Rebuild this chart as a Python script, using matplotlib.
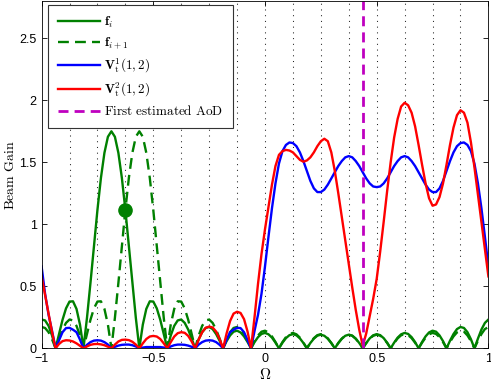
"""Beam gain of the two training beams and the two candidate beams
"""
import numpy as np
import matplotlib
matplotlib.use("Agg")
import matplotlib.pyplot as plt

plt.rcParams['font.family'] = ['Liberation Sans', 'DejaVu Sans']
plt.rcParams['mathtext.fontset'] = 'cm'

# spatial frequency grid, -1 .. 1 in steps of 1/64
omega = np.linspace(-1, 1, 129)

# beam f_i (main lobe at -0.6875)
gain_fi = [0.232, 0.225, 0.181, 0.103, 0, 0.116, 0.230, 0.322, 0.377, 0.379, 0.318, 0.191, 0,
           0.245, 0.527, 0.825, 1.116, 1.374, 1.576, 1.706, 1.750,
           1.706, 1.576, 1.374, 1.116, 0.825, 0.527, 0.245, 0,
           0.191, 0.318, 0.379, 0.377, 0.322, 0.230, 0.116, 0,
           0.103, 0.181, 0.225, 0.232, 0.205, 0.151, 0.078, 0,
           0.073, 0.130, 0.164, 0.172, 0.155, 0.115, 0.061, 0,
           0.058, 0.104, 0.134, 0.142, 0.128, 0.096, 0.051, 0,
           0.050, 0.090, 0.116, 0.124, 0.113, 0.086, 0.046, 0,
           0.045, 0.082, 0.106, 0.114, 0.105, 0.080, 0.043, 0,
           0.043, 0.078, 0.102, 0.110, 0.101, 0.077, 0.042, 0,
           0.042, 0.077, 0.101, 0.110, 0.102, 0.078, 0.043, 0,
           0.043, 0.080, 0.105, 0.114, 0.106, 0.082, 0.045, 0,
           0.046, 0.086, 0.113, 0.124, 0.116, 0.090, 0.050, 0,
           0.051, 0.096, 0.128, 0.142, 0.134, 0.104, 0.058, 0,
           0.061, 0.115, 0.155, 0.172, 0.164, 0.130, 0.073, 0,
           0.078, 0.151, 0.205, 0.232]

# beam f_{i+1} (main lobe at -0.5625)
gain_fi1 = [0.172, 0.164, 0.130, 0.073, 0, 0.078, 0.151, 0.205, 0.232, 0.225, 0.181, 0.103, 0,
            0.116, 0.230, 0.322, 0.377, 0.379, 0.318, 0.191, 0,
            0.245, 0.527, 0.825, 1.116, 1.374, 1.576, 1.706, 1.750,
            1.706, 1.576, 1.374, 1.116, 0.825, 0.527, 0.245, 0,
            0.191, 0.318, 0.379, 0.377, 0.322, 0.230, 0.116, 0,
            0.103, 0.181, 0.225, 0.232, 0.205, 0.151, 0.078, 0,
            0.073, 0.130, 0.164, 0.172, 0.155, 0.115, 0.061, 0,
            0.058, 0.104, 0.134, 0.142, 0.128, 0.096, 0.051, 0,
            0.050, 0.090, 0.116, 0.124, 0.113, 0.086, 0.046, 0,
            0.045, 0.082, 0.106, 0.114, 0.105, 0.080, 0.043, 0,
            0.043, 0.078, 0.102, 0.110, 0.101, 0.077, 0.042, 0,
            0.042, 0.077, 0.101, 0.110, 0.102, 0.078, 0.043, 0,
            0.043, 0.080, 0.105, 0.114, 0.106, 0.082, 0.045, 0,
            0.046, 0.086, 0.113, 0.124, 0.116, 0.090, 0.050, 0,
            0.051, 0.096, 0.128, 0.142, 0.134, 0.104, 0.058, 0,
            0.061, 0.115, 0.155, 0.172]

# V_t^1(1,2)
gain_v1 = [0.66, 0.44, 0.27, 0.14, 0, 0.065, 0.13, 0.163, 0.165, 0.15, 0.13, 0.07, 0,
           0.028, 0.05, 0.062, 0.065, 0.062, 0.05, 0.03, 0,
           0.012, 0.022, 0.028, 0.03, 0.03, 0.025, 0.015, 0,
           0.006, 0.01, 0.01, 0.01, 0.01, 0.01, 0.006, 0,
           0.015, 0.025, 0.03, 0.03, 0.028, 0.022, 0.012, 0,
           0.03, 0.05, 0.062, 0.065, 0.062, 0.05, 0.028, 0,
           0.07, 0.13, 0.15, 0.165, 0.163, 0.13, 0.065, 0,
           0.14, 0.27, 0.44, 0.66,
           0.90, 1.13, 1.33, 1.49, 1.59, 1.64, 1.66, 1.655,
           1.63, 1.58, 1.51, 1.43, 1.35, 1.29, 1.26, 1.26,
           1.28, 1.32, 1.37, 1.42, 1.47, 1.51, 1.54, 1.55,
           1.54, 1.51, 1.47, 1.42, 1.37, 1.33, 1.305, 1.30,
           1.305, 1.33, 1.37, 1.42, 1.47, 1.51, 1.54, 1.55,
           1.54, 1.51, 1.47, 1.42, 1.37, 1.32, 1.28, 1.26,
           1.26, 1.29, 1.35, 1.43, 1.51, 1.58, 1.63, 1.655,
           1.66, 1.64, 1.59, 1.49, 1.33, 1.13, 0.90, 0.66]

# V_t^2(1,2)
gain_v2 = [0.58, 0.43, 0.28, 0.13, 0, 0.035, 0.058, 0.065, 0.063, 0.055, 0.04, 0.02, 0,
           0.015, 0.028, 0.034, 0.035, 0.032, 0.025, 0.013, 0,
           0.03, 0.055, 0.068, 0.07, 0.066, 0.053, 0.03, 0,
           0.04, 0.075, 0.095, 0.10, 0.095, 0.075, 0.04, 0,
           0.05, 0.095, 0.122, 0.13, 0.125, 0.10, 0.055, 0,
           0.07, 0.13, 0.165, 0.175, 0.168, 0.135, 0.075, 0,
           0.12, 0.22, 0.28, 0.295, 0.285, 0.235, 0.135, 0,
           0.25, 0.52, 0.76, 0.96,
           1.14, 1.32, 1.47, 1.56, 1.59, 1.60, 1.595, 1.58,
           1.55, 1.52, 1.505, 1.515, 1.54, 1.58, 1.63, 1.67,
           1.69, 1.67, 1.58, 1.43, 1.25, 1.06, 0.87, 0.68,
           0.49, 0.31, 0.15, 0.02, 0.12, 0.26, 0.40, 0.56,
           0.78, 1.02, 1.27, 1.50, 1.70, 1.85, 1.95, 1.98,
           1.96, 1.90, 1.79, 1.64, 1.48, 1.33, 1.21, 1.15,
           1.16, 1.22, 1.33, 1.48, 1.64, 1.78, 1.88, 1.92,
           1.90, 1.82, 1.66, 1.46, 1.24, 1.02, 0.80, 0.58]

aod_est = 0.4375
cross_omega = -0.625
cross_gain = 1.116
grid_omega = np.arange(-0.875, 0.876, 0.125)

fig = plt.figure(figsize=(4.91, 3.82), dpi=100)
ax = fig.add_axes([0.0847, 0.0882, 0.9100, 0.9089])

for g in grid_omega:
	ax.axvline(g, color='#222222', lw=0.75, ls=(0, (1, 4.5)), zorder=0)

green = '#008000'
ax.plot(omega, gain_fi, color=green, lw=1.7, label=r'$\mathbf{f}_i$')
ax.plot(omega, gain_fi1, color=green, lw=1.7, ls=(0, (4.6, 2.6)), label=r'$\mathbf{f}_{i+1}$')
ax.plot(omega, gain_v1, color='b', lw=1.7, label=r'$\mathbf{V}_{\mathrm{t}}^{1}(1,2)$')
ax.plot(omega, gain_v2, color='r', lw=1.7, label=r'$\mathbf{V}_{\mathrm{t}}^{2}(1,2)$')
ax.axvline(aod_est, color='#bf00bf', lw=2.0, ls=(0, (3.6, 2.2)), label=r'$\mathrm{First\ estimated\ AoD}$')
ax.plot([cross_omega], [cross_gain], 'o', color=green, ms=9.5)

ax.set_xlim(-1, 1)
ax.set_ylim(0, 2.8)
ax.set_xticks([-1, -0.5, 0, 0.5, 1])
ax.set_xticklabels(['\u22121', '\u22120.5', '0', '0.5', '1'])
ax.set_yticks([0, 0.5, 1, 1.5, 2, 2.5])
ax.set_yticklabels(['0', '0.5', '1', '1.5', '2', '2.5'])
ax.tick_params(direction='in', top=True, right=True, length=3.5, width=0.6, labelsize=9)
for s in ax.spines.values():
	s.set_linewidth(0.6)

ax.set_xlabel(r'$\Omega$', fontsize=11, labelpad=1)
ax.set_ylabel(r'$\mathrm{Beam\ Gain}$', fontsize=10, labelpad=2)

leg = ax.legend(loc='upper left', bbox_to_anchor=(0.015, 0.989), borderaxespad=0,
	fontsize=9.5, handlelength=3.2, handletextpad=0.3, labelspacing=0.42, borderpad=0.75,
	fancybox=False, framealpha=1, edgecolor='#333333')
leg.get_frame().set_linewidth(0.8)

plt.savefig('out.png', dpi=100)
